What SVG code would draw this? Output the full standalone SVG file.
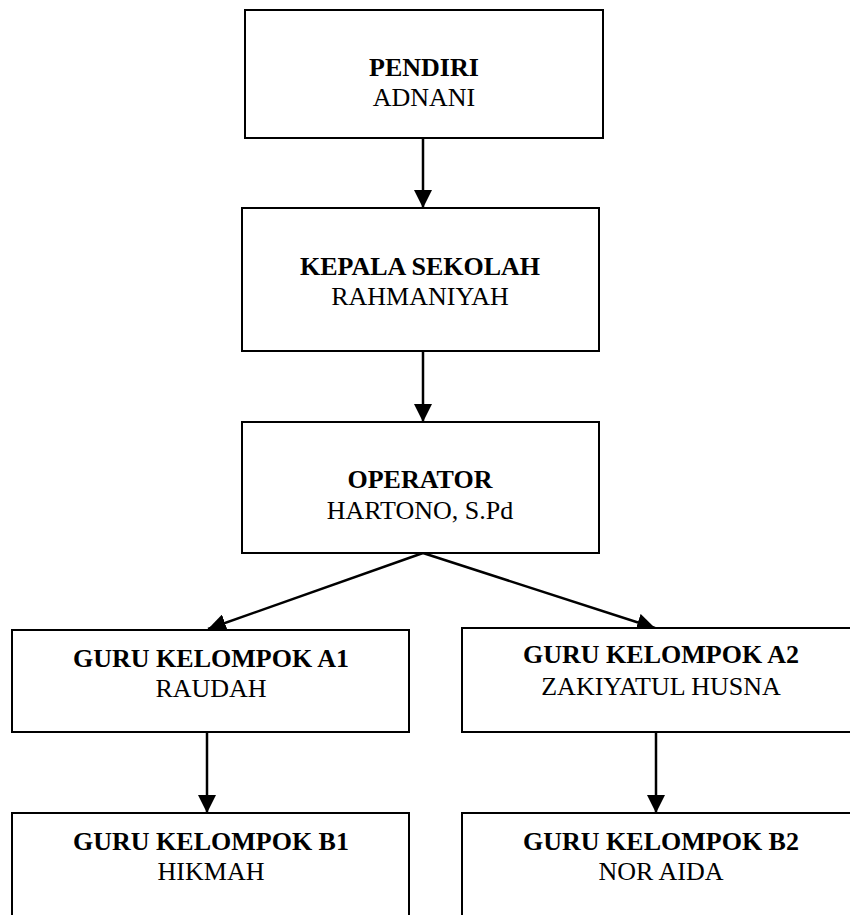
<svg xmlns="http://www.w3.org/2000/svg" width="850" height="915" viewBox="0 0 850 915">
<style>
.box{fill:#fff;stroke:#000;stroke-width:2}
.t{font-family:"Liberation Serif","Times New Roman",serif;font-size:26px;text-anchor:middle;fill:#000}
.b{font-weight:bold}
.c{stroke:#000;stroke-width:2.5;fill:none;marker-end:url(#ah)}
</style>
<defs>
<marker id="ah" markerUnits="userSpaceOnUse" markerWidth="18" markerHeight="18" viewBox="0 0 16 16" refX="16" refY="8" orient="auto">
<path d="M0,0 L16,8 L0,16 Z" fill="#000"/>
</marker>
</defs>
<rect width="850" height="915" fill="#fff"/>
<g id="connectors">
<line class="c" x1="423" y1="138" x2="423" y2="208"/>
<line class="c" x1="423" y1="351" x2="423" y2="422"/>
<line class="c" x1="423" y1="553" x2="208" y2="629"/>
<line class="c" x1="423" y1="553" x2="655" y2="628"/>
<line class="c" x1="207" y1="732" x2="207" y2="813"/>
<line class="c" x1="656" y1="732" x2="656" y2="813"/>
</g>
<g id="pendiri">
<rect class="box" x="245" y="10" width="358" height="128"/>
<text class="t b" x="424" y="76">PENDIRI</text>
<text class="t" x="424" y="106">ADNANI</text>
</g>
<g id="kepala">
<rect class="box" x="242" y="208" width="357" height="143"/>
<text class="t b" x="420" y="275">KEPALA SEKOLAH</text>
<text class="t" x="420" y="305">RAHMANIYAH</text>
</g>
<g id="operator">
<rect class="box" x="242" y="422" width="357" height="131"/>
<text class="t b" x="420" y="488">OPERATOR</text>
<text class="t" x="420" y="519">HARTONO, S.Pd</text>
</g>
<g id="a1">
<rect class="box" x="12" y="630" width="397" height="102"/>
<text class="t b" x="211" y="667">GURU KELOMPOK A1</text>
<text class="t" x="211" y="697">RAUDAH</text>
</g>
<g id="a2">
<rect class="box" x="462" y="628" width="400" height="104"/>
<text class="t b" x="661" y="663">GURU KELOMPOK A2</text>
<text class="t" x="661" y="695">ZAKIYATUL HUSNA</text>
</g>
<g id="b1">
<rect class="box" x="12" y="813" width="397" height="120"/>
<text class="t b" x="211" y="850">GURU KELOMPOK B1</text>
<text class="t" x="211" y="880">HIKMAH</text>
</g>
<g id="b2">
<rect class="box" x="462" y="813" width="400" height="120"/>
<text class="t b" x="661" y="850">GURU KELOMPOK B2</text>
<text class="t" x="661" y="880">NOR AIDA</text>
</g>
</svg>
